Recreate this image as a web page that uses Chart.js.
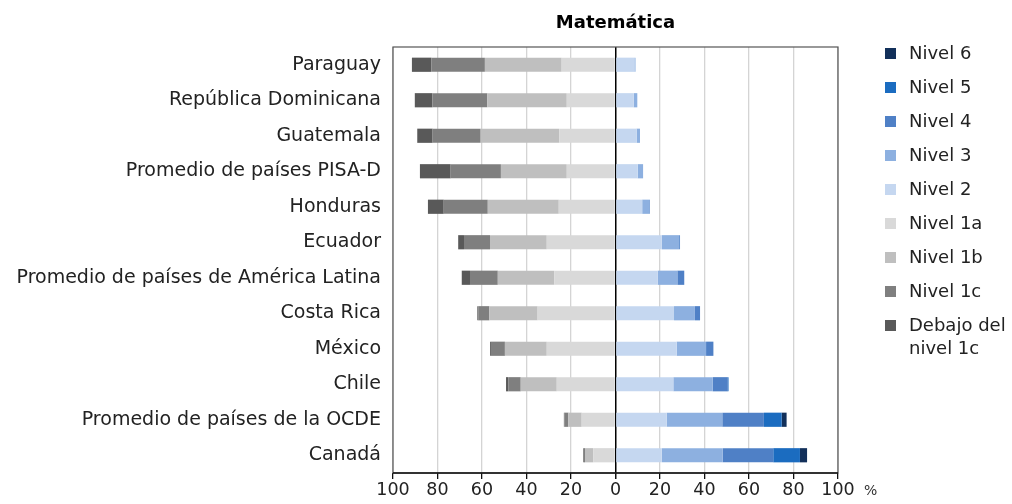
<!DOCTYPE html>
<html>
<head>
<meta charset="utf-8">
<script src="https://cdn.jsdelivr.net/npm/chart.js@4"></script>
<style>
  body { margin: 0; background: #fff; }
  #wrap { position: relative; width: 1012px; height: 504px; }
  #legend { position: absolute; left: 0; top: 0; font-family: "DejaVu Sans", sans-serif; font-size: 18px; color: #222; }
  #legend .box { position: absolute; left: 885px; width: 11px; height: 11px; }
  #legend .txt { position: absolute; left: 909px; line-height: 23px; white-space: nowrap; }
</style>
</head>
<body>
<div id="wrap">
  <canvas id="chart" width="1012" height="504"></canvas>
  <div id="legend"></div>
</div>
<script>
// categories, top to bottom
var paises = ["Paraguay", "República Dominicana", "Guatemala", "Promedio de países PISA-D", "Honduras",
  "Ecuador", "Promedio de países de América Latina", "Costa Rica", "México", "Chile",
  "Promedio de países de la OCDE", "Canadá"];

// % de estudiantes por nivel (debajo del nivel 2 se dibuja a la izquierda)
var debajo1c = [8.7, 7.9, 6.9, 13.8, 7.1, 2.6, 3.7, 0.4, 0.4, 1.0, 0.2, 0.3];
var nivel1c  = [24.1, 24.7, 21.6, 22.6, 19.8, 11.7, 12.5, 5.0, 6.3, 5.6, 1.8, 0.5];
var nivel1b  = [34.5, 35.7, 35.3, 29.6, 31.9, 25.5, 25.4, 21.7, 18.8, 16.2, 6.0, 3.7];
var nivel1a  = [24.2, 21.9, 25.3, 21.9, 25.5, 30.9, 27.5, 35.0, 30.9, 26.4, 15.2, 10.0];
var nivel2   = [8.5, 8.2, 9.5, 10.0, 12.0, 20.8, 19.0, 26.3, 27.5, 26.0, 23.0, 20.8];
var nivel3   = [0.5, 1.6, 1.5, 2.4, 3.2, 7.8, 8.8, 9.4, 13.2, 17.7, 25.0, 27.4];
var nivel4   = [0, 0, 0, 0, 0.3, 0.4, 3.1, 2.3, 3.3, 6.8, 18.7, 22.7];
var nivel5   = [0, 0, 0, 0, 0, 0, 0, 0, 0, 0.3, 8.0, 12.0];
var nivel6   = [0, 0, 0, 0, 0, 0, 0, 0, 0, 0, 2.2, 3.2];

var xTicks = [-100, -80, -60, -40, -20, 0, 20, 40, 60, 80, 100];

var neg = function (a) { return a.map(function (v) { return -v; }); };

var series = [
  { label: "Nivel 1a", data: neg(nivel1a), color: "#d9d9d9" },
  { label: "Nivel 1b", data: neg(nivel1b), color: "#bfbfbf" },
  { label: "Nivel 1c", data: neg(nivel1c), color: "#7f7f7f" },
  { label: "Debajo del nivel 1c", data: neg(debajo1c), color: "#595959" },
  { label: "Nivel 2", data: nivel2, color: "#c5d7f0" },
  { label: "Nivel 3", data: nivel3, color: "#8db0e0" },
  { label: "Nivel 4", data: nivel4, color: "#4f80c6" },
  { label: "Nivel 5", data: nivel5, color: "#1b6cc0" },
  { label: "Nivel 6", data: nivel6, color: "#12305a" }
];

// legend, html
var legendOrder = ["Nivel 6", "Nivel 5", "Nivel 4", "Nivel 3", "Nivel 2", "Nivel 1a", "Nivel 1b", "Nivel 1c", "Debajo del nivel 1c"];
var lg = document.getElementById('legend');
legendOrder.forEach(function (name, i) {
  var s = series.find(function (d) { return d.label === name; });
  var txt = name === "Debajo del nivel 1c" ? "Debajo del<br>nivel 1c" : name;
  var cy = 53 + i * 34;
  lg.innerHTML += '<span class="box" style="top:' + (cy - 5) + 'px;background:' + s.color + '"></span>' +
    '<span class="txt" style="top:' + (cy - 12) + 'px">' + txt + '</span>';
});

var FONT = "'DejaVu Sans', sans-serif";

var extras = {
  id: 'extras',
  afterDraw: function (chart) {
    var c = chart.ctx, a = chart.chartArea;
    c.save();
    c.strokeStyle = '#555';
    c.lineWidth = 1.2;
    c.strokeRect(a.left, a.top, a.right - a.left, a.bottom - a.top);
    c.strokeStyle = '#111';
    c.lineWidth = 1.6;
    c.beginPath();
    c.moveTo(a.left, a.bottom);
    c.lineTo(a.right, a.bottom);
    c.stroke();
    c.fillStyle = '#000';
    c.font = "bold 18px " + FONT;
    c.textAlign = 'center';
    c.textBaseline = 'middle';
    c.fillText('Matemática', (a.left + a.right) / 2, 23);
    c.font = "14px " + FONT;
    c.fillStyle = '#333';
    c.textAlign = 'left';
    c.fillText('%', a.right + 26, 491);
    c.restore();
  }
};

var ctx = document.getElementById('chart').getContext('2d');
var chart = new Chart(ctx, {
  type: 'bar',
  data: {
    labels: paises,
    datasets: series.map(function (s) {
      return { label: s.label, data: s.data, backgroundColor: s.color, borderWidth: 0,
        barPercentage: 0.4, categoryPercentage: 1.0 };
    })
  },
  options: {
    indexAxis: 'y',
    responsive: false,
    animation: false,
    layout: { padding: { left: 0, right: 174, top: 47, bottom: 0 } },
    plugins: {
      legend: { display: false },
      title: { display: false },
      tooltip: { enabled: false }
    },
    scales: {
      x: {
        stacked: true,
        min: -100, max: 100,
        afterBuildTicks: function (scale) { scale.ticks = xTicks.map(function (v) { return { value: v }; }); },
        afterFit: function (scale) { scale.height = 31; },
        ticks: {
          callback: function (v) { return Math.abs(v); },
          font: { family: FONT, size: 17.5 }, color: '#222', padding: 1, maxRotation: 0
        },
        grid: {
          color: function (c) { return c.tick && c.tick.value === 0 ? '#000' : '#d4d4d4'; },
          lineWidth: function (c) { return c.tick && c.tick.value === 0 ? 1.5 : 1.3; },
          tickColor: '#111', tickLength: 6
        },
        border: { display: false }
      },
      y: {
        stacked: true,
        afterFit: function (scale) { scale.width = 393; },
        ticks: { font: { family: FONT, size: 19 }, color: '#222', padding: 12 },
        grid: { display: false, drawTicks: false },
        border: { display: false }
      }
    }
  },
  plugins: [extras]
});
</script>
</body>
</html>
